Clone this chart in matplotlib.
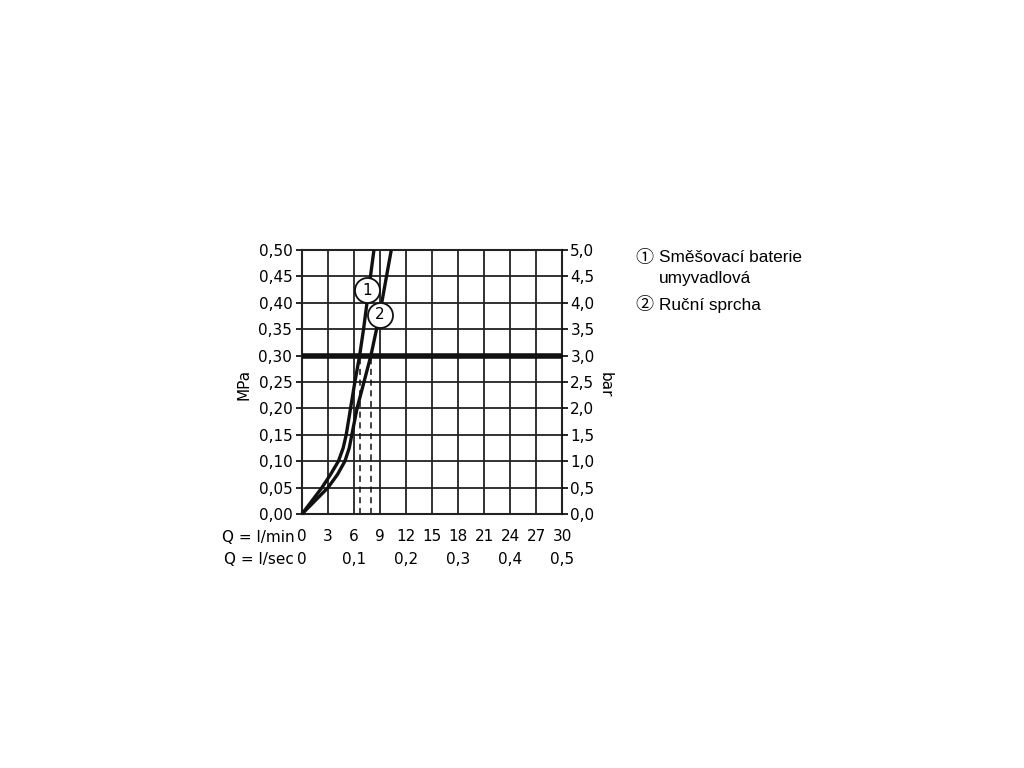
import numpy as np
import matplotlib.pyplot as plt

# flow (l/min) vs pressure (MPa)
p_mpa = [0.0, 0.05, 0.075, 0.10, 0.125, 0.15, 0.20, 0.25, 0.30, 0.35, 0.40, 0.45, 0.50]
q1 = [0.0, 2.3, 3.3, 4.2, 4.75, 5.1, 5.6, 6.1, 6.65, 7.1, 7.5, 7.9, 8.3]
q2 = [0.0, 3.0, 4.1, 4.95, 5.45, 5.75, 6.35, 7.15, 7.95, 8.6, 9.2, 9.75, 10.3]
q_ticks = [0, 3, 6, 9, 12, 15, 18, 21, 24, 27, 30]
lsec_ticks = [0, 6, 12, 18, 24, 30]
lsec_labels = ['0', '0,1', '0,2', '0,3', '0,4', '0,5']
p_ticks = [0.0, 0.05, 0.10, 0.15, 0.20, 0.25, 0.30, 0.35, 0.40, 0.45, 0.50]
bar_labels = ['0,0', '0,5', '1,0', '1,5', '2,0', '2,5', '3,0', '3,5', '4,0', '4,5', '5,0']
legend = ['Směšovací baterie', 'umyvadlová', 'Ruční sprcha']

fs = 11
fig = plt.figure(figsize=(10.24, 7.68), dpi=100)
ax = fig.add_axes([302/1024, 1-514/768, 260/1024, 264/768])
ax.set_xlim(0, 30)
ax.set_ylim(0, 0.5)

# grid
for q in q_ticks:
    ax.axvline(q, color='#222222', lw=1.3, zorder=1)
for p in p_ticks:
    ax.axhline(p, color='#222222', lw=1.3, zorder=1)
ax.axhline(0.30, color='#111111', lw=4, zorder=3)

ax.plot(q1, p_mpa, color='#111111', lw=2.4, zorder=4, clip_on=False,
        solid_joinstyle='round', solid_capstyle='butt')
ax.plot(q2, p_mpa, color='#111111', lw=2.4, zorder=4, clip_on=False,
        solid_joinstyle='round', solid_capstyle='butt')

# dashed drop lines at 0,3 MPa
for q in (q1[8], q2[8]):
    ax.plot([q, q], [0, 0.30], color='#111111', lw=1.1, ls=(0, (4, 3)), zorder=2)

# circled labels
for (x, y, t) in [(7.5, 0.424, '1'), (9.0, 0.377, '2')]:
    ax.plot(x, y, 'o', ms=18, mfc='white', mec='#111111', mew=1.3, zorder=5)
    ax.text(x, y, t, ha='center', va='center', fontsize=fs, zorder=6)

for s in ax.spines.values():
    s.set_linewidth(1.5)
    s.set_color('#222222')

ax.set_yticks(p_ticks)
ax.set_yticklabels([('%.2f' % p).replace('.', ',') for p in p_ticks], fontsize=fs)
ax.tick_params(axis='y', direction='out', length=4, width=1.2, pad=3)
ax.set_xticks(q_ticks)
ax.set_xticklabels([str(q) for q in q_ticks], fontsize=fs)
ax.tick_params(axis='x', length=0, pad=11)
ax.set_ylabel('MPa', fontsize=fs)
ax.yaxis.set_label_coords(-0.195, 0.49)

ax2 = ax.twinx()
ax2.set_ylim(0, 0.5)
ax2.set_yticks(p_ticks)
ax2.set_yticklabels(bar_labels, fontsize=fs)
ax2.tick_params(axis='y', direction='out', length=4, width=1.2, pad=2)
ax2.set_ylabel('bar', fontsize=fs, rotation=270, va='center')
ax2.yaxis.set_label_coords(1.165, 0.49)
for s in ax2.spines.values():
    s.set_visible(False)

# second row: l/sec
for q, lab in zip(lsec_ticks, lsec_labels):
    ax.text(q, -0.087, lab, ha='center', va='center', fontsize=fs, clip_on=False)
ax.text(-0.9, -0.044, 'Q = l/min', ha='right', va='center', fontsize=fs, clip_on=False)
ax.text(-0.9, -0.087, 'Q = l/sec', ha='right', va='center', fontsize=fs, clip_on=False)

fam = ['Liberation Sans', 'Noto Sans CJK SC', 'DejaVu Sans']
fig.text(635/1024, 1-258/768, '\u2460', fontsize=13, family=fam, va='center')
fig.text(659/1024, 1-258/768, legend[0], fontsize=12.4, family=fam, va='center')
fig.text(659/1024, 1-279/768, legend[1], fontsize=12.4, family=fam, va='center')
fig.text(635/1024, 1-305/768, '\u2461', fontsize=13, family=fam, va='center')
fig.text(659/1024, 1-305/768, legend[2], fontsize=12.4, family=fam, va='center')

fig.savefig('out.png', dpi=100, facecolor='white')
